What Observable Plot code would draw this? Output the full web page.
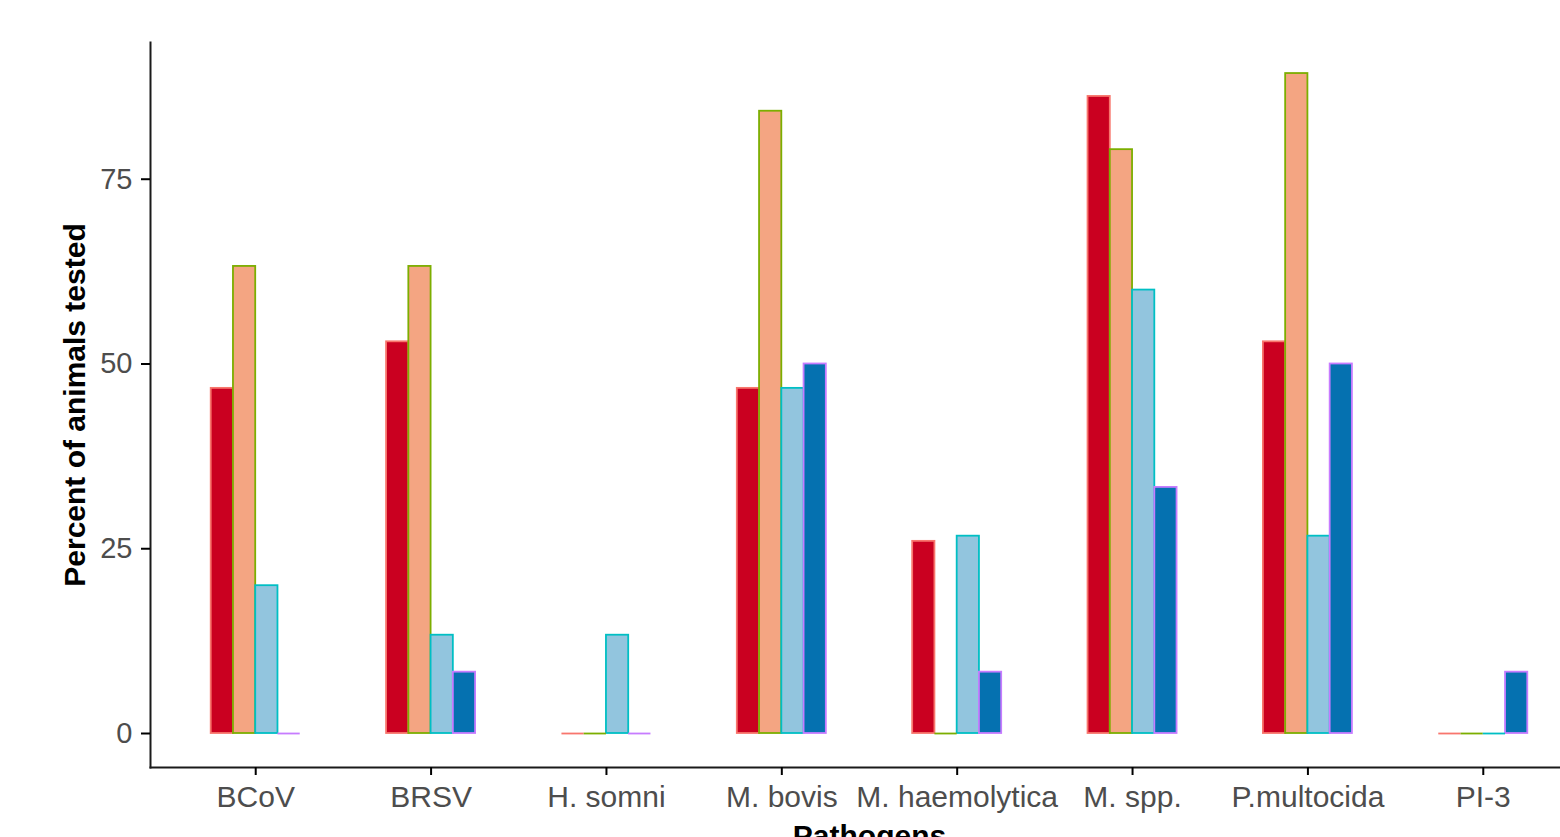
<!DOCTYPE html>
<html>
<head>
<meta charset="utf-8">
<script src="https://cdn.jsdelivr.net/npm/d3@7"></script>
<script src="https://cdn.jsdelivr.net/npm/@observablehq/plot@0.6"></script>
<style>
  html, body { margin: 0; padding: 0; background: #fff; overflow: hidden; }
  #chart { width: 1600px; }
  #chart svg { font-family: "Liberation Sans", Arial, sans-serif; }
  #chart g[aria-label="y-axis tick label"] text,
  #chart g[aria-label="fx-axis tick label"] text { fill: #4D4D4D; }
  #chart g[aria-label="y-axis tick"], #chart g[aria-label="fx-axis tick"] { stroke: #333333; }
  #chart g[aria-label="y-axis label"] text,
  #chart g[aria-label="fx-axis label"] text { font-weight: bold; font-size: 30px; fill: #000; }
</style>
</head>
<body>
<div id="chart"></div>
<script>
// Categories (x axis)
const categories = ["BCoV", "BRSV", "H. somni", "M. bovis", "M. haemolytica", "M. spp.", "P.multocida", "PI-3"];
// Series (legend not visible in the reference)
const groups = ["Group 1", "Group 2", "Group 3", "Group 4"];
// Series values (percent of animals tested), one per category
const values1 = [46.7, 53.0, 0, 46.7, 26.0, 86.2, 53.0, 0];
const values2 = [63.2, 63.2, 0, 84.2, 0, 79.0, 89.3, 0];
const values3 = [20.0, 13.3, 13.3, 46.7, 26.7, 60.0, 26.7, 0];
const values4 = [0, 8.3, 0, 50.0, 8.3, 33.3, 50.0, 8.3];
// Axis
const yTicks = [0, 25, 50, 75];
const yDomain = [-4.6, 93.5];
// Colours
const fills = ["#CA0020", "#F4A582", "#92C5DE", "#0571B0"];
const strokes = ["#F8766D", "#7CAE00", "#00BFC4", "#C77CFF"];

const seriesValues = [values1, values2, values3, values4];
const data = categories.flatMap((c, i) =>
  groups.map((g, k) => ({category: c, series: g, value: seriesValues[k][i], edge: strokes[k]}))
);

// ggplot-style discrete expansion: axes sit 0.1 of a category step outside the outer facets
const outerShift = -17.54;

const chart = Plot.plot({
  width: 1600,
  height: 860,
  marginLeft: 150,
  marginRight: 12,
  marginTop: 42,
  marginBottom: 93,
  style: {background: "#fff", fontFamily: "'Liberation Sans', Arial, sans-serif"},
  fx: {domain: categories, paddingInner: 0, paddingOuter: 0.1, round: false},
  x: {domain: groups, axis: null, paddingInner: 0, paddingOuter: 1.94, round: false},
  y: {domain: yDomain},
  color: {domain: groups, range: fills},
  marks: [
    Plot.barY(data, {fx: "category", x: "series", y: "value", fill: "series", stroke: "edge", strokeWidth: 1.8}),
    Plot.tickY(data.filter(d => d.value === 0), {fx: "category", x: "series", y: "value", stroke: "edge", strokeWidth: 1.8}),
    Plot.frame({anchor: "left", facet: "super", stroke: "#1a1a1a", strokeWidth: 2, dx: outerShift}),
    Plot.frame({anchor: "bottom", facet: "super", stroke: "#1a1a1a", strokeWidth: 2, insetLeft: outerShift, insetRight: outerShift}),
    Plot.axisY({
      ticks: yTicks, tickSize: 9, tickPadding: 9, strokeWidth: 2, fontSize: 29, dx: outerShift,
      label: "Percent of animals tested", labelAnchor: "center", labelOffset: 104, labelArrow: "none"
    }),
    Plot.axisFx({
      anchor: "bottom", tickSize: 8, tickPadding: 10, strokeWidth: 2, fontSize: 30,
      label: "Pathogens", labelAnchor: "center", labelOffset: 78, labelArrow: "none"
    })
  ]
});
document.getElementById("chart").appendChild(chart);
</script>
</body>
</html>
